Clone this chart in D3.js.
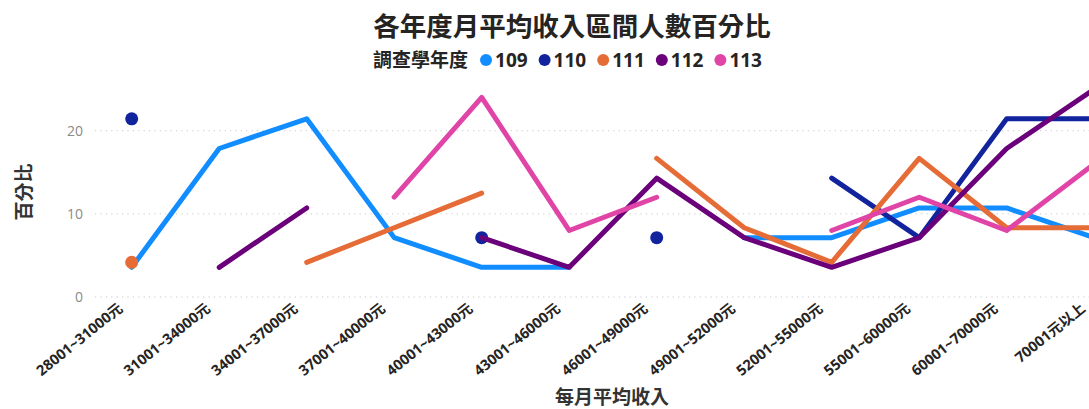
<!DOCTYPE html>
<html>
<head>
<meta charset="utf-8">
<script src="https://cdn.jsdelivr.net/npm/d3@7"></script>
<style>
  html, body { margin: 0; padding: 0; background: #fff; }
  svg { display: block; overflow: hidden; }
  text { font-family: "Open Sans", "Noto Sans CJK TC", "Noto Sans", sans-serif; }
</style>
</head>
<body>
<svg id="chart" width="1089" height="409"></svg>
<script>
const categories = ["28001~31000元","31001~34000元","34001~37000元","37001~40000元","40001~43000元","43001~46000元","46001~49000元","49001~52000元","52001~55000元","55001~60000元","60001~70000元","70001元以上"];
const seriesNames = ["109","110","111","112","113"];
const seriesColors = ["#118DFF","#12239E","#E66C37","#6B007B","#E044A7"];
const v109 = [3.57, 17.86, 21.43, 7.14, 3.57, 3.57, null, 7.14, 7.14, 10.71, 10.71, 7.14];
const v110 = [21.43, null, null, null, 7.14, null, 7.14, null, 14.29, 7.14, 21.43, 21.43];
const v111 = [4.17, null, 4.17, 8.33, 12.5, null, 16.67, 8.33, 4.17, 16.67, 8.33, 8.33];
const v112 = [null, 3.57, 10.71, null, 7.14, 3.57, 14.29, 7.14, 3.57, 7.14, 17.86, 25.0];
const v113 = [null, null, null, 12, 24, 8, 12, null, 8, 12, 8, 16];
const yTicks = [0, 10, 20];
const title = "各年度月平均收入區間人數百分比";
const legendTitle = "調查學年度";
const xTitle = "每月平均收入";
const yTitle = "百分比";

const seriesValues = [v109, v110, v111, v112, v113];

const svg = d3.select("#chart");
const x = d3.scalePoint().domain(categories).range([131.7, 1094.2]);
const y = d3.scaleLinear().domain([0, 20]).range([297, 130.7]);

// gridlines
svg.append("g").selectAll("line").data(yTicks).join("line")
  .attr("x1", 95).attr("x2", 1089)
  .attr("y1", d => y(d)).attr("y2", d => y(d))
  .attr("stroke", "#c8c8c8").attr("stroke-width", 1)
  .attr("stroke-dasharray", "1.2,4.2");

// y tick labels
svg.append("g").selectAll("text").data(yTicks).join("text")
  .attr("x", 83).attr("y", d => y(d)).attr("dy", "0.36em")
  .attr("text-anchor", "end").attr("font-size", 14).attr("fill", "#8a8a8a")
  .text(d => d);

// x tick labels
svg.append("g").selectAll("text").data(categories).join("text")
  .attr("transform", d => `translate(${x(d) - 8},${310}) rotate(-39)`)
  .attr("text-anchor", "end").attr("font-size", 14.5).attr("font-weight", 700)
  .attr("fill", "#252423")
  .text(d => d);

// lines
const line = d3.line()
  .defined(d => d.v != null)
  .x(d => x(d.c)).y(d => y(d.v));

seriesValues.forEach((vals, i) => {
  const pts = categories.map((c, j) => ({c, v: vals[j]}));
  const g = svg.append("g");
  g.append("path").datum(pts).attr("d", line)
    .attr("fill", "none").attr("stroke", seriesColors[i])
    .attr("stroke-width", 5).attr("stroke-linejoin", "round").attr("stroke-linecap", "round");
  // isolated points
  const iso = pts.filter((p, j) => p.v != null &&
    (j === 0 || pts[j-1].v == null) && (j === pts.length - 1 || pts[j+1].v == null));
  g.selectAll("circle").data(iso).join("circle")
    .attr("cx", d => x(d.c)).attr("cy", d => y(d.v)).attr("r", 6.5)
    .attr("fill", seriesColors[i]);
});

// title
svg.append("text").attr("x", 572).attr("y", 36).attr("text-anchor", "middle")
  .attr("font-size", 26.5).attr("font-weight", 700).attr("fill", "#252423").text(title);

// legend
const lg = svg.append("g");
let lx = 373;
const ly = 67;
const lt = lg.append("text").attr("x", lx).attr("y", ly).attr("font-size", 19)
  .attr("font-weight", 700).attr("fill", "#252423").text(legendTitle);
lx += lt.node().getComputedTextLength() + 18;
seriesNames.forEach((n, i) => {
  lg.append("circle").attr("cx", lx).attr("cy", ly - 7).attr("r", 6).attr("fill", seriesColors[i]);
  const t = lg.append("text").attr("x", lx + 9).attr("y", ly).attr("font-size", 19)
    .attr("font-weight", 700).attr("fill", "#252423").text(n);
  lx += 9 + t.node().getComputedTextLength() + 17;
});

// axis titles
svg.append("text").attr("x", 612).attr("y", 404).attr("text-anchor", "middle")
  .attr("font-size", 19).attr("font-weight", 600).attr("fill", "#333").text(xTitle);
svg.append("text").attr("transform", "translate(31,192) rotate(-90)").attr("text-anchor", "middle")
  .attr("font-size", 19).attr("font-weight", 600).attr("fill", "#333").text(yTitle);
</script>
</body>
</html>
